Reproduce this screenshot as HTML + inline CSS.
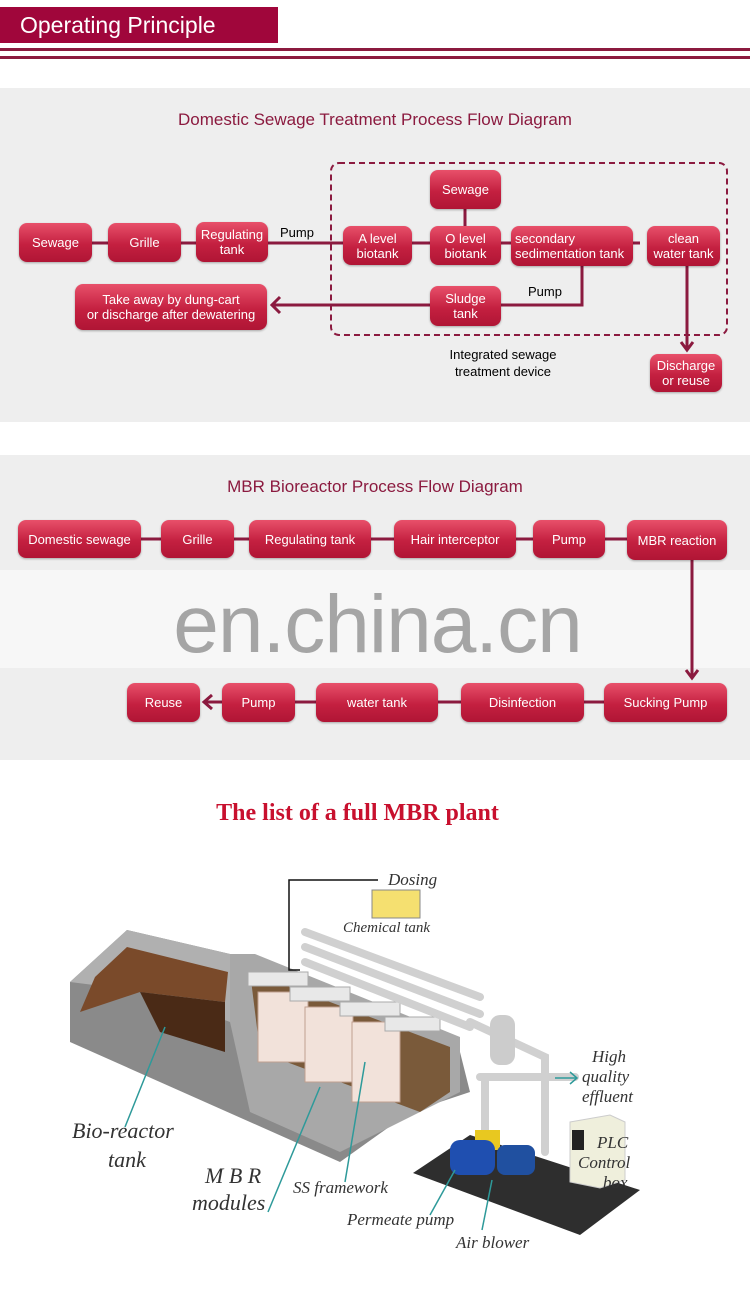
<!DOCTYPE html>
<html><head><meta charset="utf-8"><style>
body{margin:0;width:750px;height:1297px;position:relative;background:#fff;font-family:"Liberation Sans",sans-serif;overflow:hidden}
.a{position:absolute}
.b{position:absolute;border-radius:8px;background:linear-gradient(#e8506a,#c42040 55%,#b01535);color:#fff;font-size:13px;display:flex;align-items:center;justify-content:center;text-align:center;line-height:15px;box-shadow:0 1px 2px rgba(0,0,0,.3)}
.t{position:absolute;font-size:17px;color:#8b1a3f;width:750px;text-align:center}
</style></head><body>
<div class="a" style="left:0;top:7px;width:278px;height:36px;background:#a0063b"></div>
<div class="a" style="left:20px;top:12px;color:#fff;font-size:23px">Operating Principle</div>
<div class="a" style="left:0;top:48px;width:750px;height:3px;background:#8b1a3f"></div>
<div class="a" style="left:0;top:56px;width:750px;height:3px;background:#8b1a3f"></div>

<div class="a" style="left:0;top:88px;width:750px;height:334px;background:#eeeeee"></div>
<div class="t" style="top:110px">Domestic Sewage Treatment Process Flow Diagram</div>
<svg class="a" style="left:0;top:0" width="750" height="440">
<g stroke="#8b1a3f" stroke-width="3" fill="none">
<line x1="92" y1="243" x2="640" y2="243"/>
<line x1="465" y1="205" x2="465" y2="230"/>
<polyline points="582,264 582,305 272,305"/>
<polyline points="280,297 272,305 280,313"/>
<line x1="687" y1="264" x2="687" y2="350"/>
<polyline points="681,342 687,350 693,342"/>
</g>
<rect x="331" y="163" width="396" height="172" rx="8" fill="none" stroke="#8b1a3f" stroke-width="2" stroke-dasharray="6,4"/>
</svg>
<div class="b" style="left:19px;top:223px;width:73px;height:39px">Sewage</div>
<div class="b" style="left:108px;top:223px;width:73px;height:39px">Grille</div>
<div class="b" style="left:196px;top:222px;width:72px;height:40px">Regulating<br>tank</div>
<div class="a" style="left:280px;top:225px;font-size:13px">Pump</div>
<div class="b" style="left:343px;top:226px;width:69px;height:39px">A level<br>biotank</div>
<div class="b" style="left:430px;top:170px;width:71px;height:39px">Sewage</div>
<div class="b" style="left:430px;top:226px;width:71px;height:39px">O level<br>biotank</div>
<div class="b" style="left:511px;top:226px;width:122px;height:40px;justify-content:flex-start;text-align:left;padding-left:4px;box-sizing:border-box">secondary<br>sedimentation tank</div>
<div class="b" style="left:647px;top:226px;width:73px;height:40px">clean<br>water tank</div>
<div class="b" style="left:75px;top:284px;width:192px;height:46px">Take away by dung-cart<br>or discharge after dewatering</div>
<div class="b" style="left:430px;top:286px;width:71px;height:40px">Sludge<br>tank</div>
<div class="a" style="left:528px;top:284px;font-size:13px">Pump</div>
<div class="a" style="left:423px;top:346px;width:160px;text-align:center;font-size:13px;line-height:17px">Integrated sewage<br>treatment device</div>
<div class="b" style="left:650px;top:354px;width:72px;height:38px">Discharge<br>or reuse</div>

<div class="a" style="left:0;top:455px;width:750px;height:305px;background:#eeeeee"></div>
<div class="a" style="left:0;top:570px;width:750px;height:98px;background:#f7f7f7"></div>
<div class="t" style="top:477px">MBR Bioreactor Process Flow Diagram</div>
<div class="a" style="left:0;top:578px;width:755px;text-align:center;font-size:82px;color:#a5a5a5;letter-spacing:-1px">en.china.cn</div>
<svg class="a" style="left:0;top:440px" width="750" height="320">
<g stroke="#8b1a3f" stroke-width="3" fill="none">
<line x1="141" y1="99" x2="627" y2="99"/>
<line x1="692" y1="118" x2="692" y2="238"/>
<polyline points="686,230 692,238 698,230"/>
<line x1="204" y1="262" x2="604" y2="262"/>
<polyline points="212,255 204,262 212,269"/>
</g></svg>
<div class="b" style="left:18px;top:520px;width:123px;height:38px">Domestic sewage</div>
<div class="b" style="left:161px;top:520px;width:73px;height:38px">Grille</div>
<div class="b" style="left:249px;top:520px;width:122px;height:38px">Regulating tank</div>
<div class="b" style="left:394px;top:520px;width:122px;height:38px">Hair interceptor</div>
<div class="b" style="left:533px;top:520px;width:72px;height:38px">Pump</div>
<div class="b" style="left:627px;top:520px;width:100px;height:40px">MBR reaction</div>
<div class="b" style="left:127px;top:683px;width:73px;height:39px">Reuse</div>
<div class="b" style="left:222px;top:683px;width:73px;height:39px">Pump</div>
<div class="b" style="left:316px;top:683px;width:122px;height:39px">water tank</div>
<div class="b" style="left:461px;top:683px;width:123px;height:39px">Disinfection</div>
<div class="b" style="left:604px;top:683px;width:123px;height:39px">Sucking Pump</div>

<div class="a" style="left:0;top:800px;width:715px;text-align:center;font-family:'Liberation Serif',serif;font-weight:bold;font-size:24px;color:#c8102e">The list of a full MBR plant</div>
<svg class="a" style="left:0;top:760px" width="750" height="537">
<polygon points="413,413 470,375 640,430 580,475" fill="#2e2e2e"/>
<g transform="translate(0,-68)">
<polygon points="70,290 127,238 230,262 230,310 460,360 470,400 410,420 340,470 70,350" fill="#8a8a8a"/>
<polygon points="70,290 127,238 230,262 230,330 150,300" fill="#b0b0b0"/>
<polygon points="95,285 127,255 228,280 225,310 140,300 80,320" fill="#7a4a2a"/>
<polygon points="140,300 225,310 225,360 160,340" fill="#4a2a16"/>
<polygon points="230,262 255,262 460,345 460,400 420,420 340,460 250,420 230,330" fill="#a8a8a8"/>
<polygon points="250,280 450,355 450,400 420,420 260,360" fill="#7a5a3a"/>
<g fill="#f2e2da" stroke="#c0a090">
<rect x="258" y="300" width="50" height="70"/><rect x="305" y="315" width="48" height="75"/><rect x="352" y="330" width="48" height="80"/>
</g>
<g fill="#e8e8e8" stroke="#aaa">
<rect x="248" y="280" width="60" height="14"/><rect x="290" y="295" width="60" height="14"/><rect x="340" y="310" width="60" height="14"/><rect x="385" y="325" width="55" height="14"/>
</g>
<g stroke="#d0d0d0" stroke-width="8" fill="none" stroke-linecap="round">
<line x1="305" y1="240" x2="480" y2="305"/><line x1="305" y1="255" x2="480" y2="322"/><line x1="305" y1="270" x2="470" y2="335"/>
<polyline points="470,330 545,365 545,460"/>
<line x1="480" y1="385" x2="575" y2="385"/>
<polyline points="485,385 485,440"/>
</g>
<rect x="490" y="323" width="25" height="50" rx="10" fill="#ccc"/>
<g stroke="#2e9a9a" stroke-width="1.5" fill="none">
<line x1="165" y1="335" x2="125" y2="435"/><line x1="320" y1="395" x2="268" y2="520"/><line x1="365" y1="370" x2="345" y2="490"/>
</g>
</g>
<rect x="475" y="370" width="25" height="20" fill="#e8c820"/>
<rect x="450" y="380" width="45" height="35" rx="10" fill="#1f4fb0"/>
<rect x="497" y="385" width="38" height="30" rx="8" fill="#2050a0"/>
<polygon points="570,362 610,355 625,362 625,420 600,428 570,422" fill="#efefdc" stroke="#ccc"/>
<rect x="572" y="370" width="12" height="20" fill="#222"/>
<g stroke="#2e9a9a" stroke-width="1.5" fill="none">
<line x1="455" y1="410" x2="430" y2="455"/><line x1="492" y1="420" x2="482" y2="470"/>
<line x1="555" y1="318" x2="577" y2="318"/><polyline points="570,312 577,318 570,324"/></g>
<rect x="372" y="130" width="48" height="28" fill="#f5e070" stroke="#888"/>
<polyline points="378,120 289,120 289,210 300,210" stroke="#111" fill="none" stroke-width="1.5"/>
<g font-family="Liberation Serif,serif" font-style="italic" fill="#333">
<text x="388" y="125" font-size="17">Dosing</text>
<text x="343" y="172" font-size="15">Chemical tank</text>
<text x="72" y="378" font-size="22">Bio-reactor</text>
<text x="108" y="407" font-size="22">tank</text>
<text x="205" y="423" font-size="22">M B R</text>
<text x="192" y="450" font-size="22">modules</text>
<text x="293" y="433" font-size="17">SS framework</text>
<text x="347" y="465" font-size="17">Permeate pump</text>
<text x="456" y="488" font-size="17">Air blower</text>
<text x="592" y="302" font-size="17">High</text>
<text x="582" y="322" font-size="17">quality</text>
<text x="582" y="342" font-size="17">effluent</text>
<text x="597" y="388" font-size="17">PLC</text>
<text x="578" y="408" font-size="17">Control</text>
<text x="603" y="428" font-size="17">box</text>
</g>
</svg>
</body></html>
